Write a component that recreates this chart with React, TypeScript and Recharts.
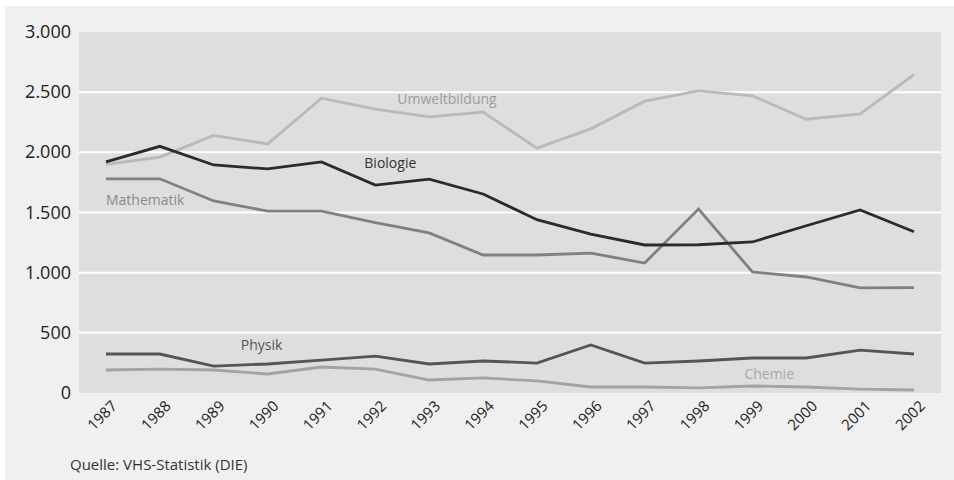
import React from 'react';
import { LineChart, Line, XAxis, YAxis, CartesianGrid, ReferenceLine } from 'recharts';

const years = ['1987', '1988', '1989', '1990', '1991', '1992', '1993', '1994', '1995', '1996', '1997', '1998', '1999', '2000', '2001', '2002'];
const umweltbildung = [1900, 1960, 2140, 2070, 2450, 2360, 2295, 2335, 2035, 2195, 2425, 2510, 2470, 2275, 2320, 2645];
const biologie = [1920, 2050, 1895, 1862, 1920, 1728, 1778, 1654, 1440, 1321, 1230, 1232, 1255, 1390, 1521, 1340];
const mathematik = [1780, 1780, 1596, 1512, 1512, 1415, 1330, 1147, 1147, 1163, 1080, 1529, 1006, 964, 873, 876];
const physik = [324, 324, 224, 241, 274, 307, 241, 266, 249, 399, 249, 266, 291, 291, 357, 324];
const chemie = [191, 199, 191, 158, 216, 199, 108, 125, 100, 50, 50, 42, 58, 50, 33, 25];
const yTicks = [0, 500, 1000, 1500, 2000, 2500, 3000];
const gridValues = [500, 1000, 1500, 2000, 2500];
const source = 'Quelle: VHS-Statistik (DIE)';

const data = years.map((year, i) => ({
  year,
  umweltbildung: umweltbildung[i],
  biologie: biologie[i],
  mathematik: mathematik[i],
  physik: physik[i],
  chemie: chemie[i],
}));

const FONT = '"Open Sans", "DejaVu Sans", sans-serif';

const fmt = (v: number) =>
  v >= 1000 ? `${Math.floor(v / 1000)}.${String(v % 1000).padStart(3, '0')}` : String(v);

const makeLabel = (idx: number, text: string, dx: number, dy: number, color: string) => (props: any) => {
  const { x, y, index } = props;
  if (index !== idx) return <g />;
  return (
    <text x={x + dx} y={y + dy} fill={color} fontSize={14} fontFamily={FONT} textAnchor="start">
      {text}
    </text>
  );
};

const XTick = (props: any) => {
  const { x, y, payload } = props;
  return (
    <g transform={`translate(${x + 12},${y + 6})`}>
      <text x={0} y={0} textAnchor="end" transform="rotate(-45)" fill="#222" fontSize={15} fontFamily={FONT}>
        {payload.value}
      </text>
    </g>
  );
};

const YTick = (props: any) => {
  const { x, y, payload } = props;
  return (
    <text x={x} y={y} dy={6} textAnchor="end" fill="#222" fontSize={18} fontFamily={FONT}>
      {fmt(payload.value)}
    </text>
  );
};

export default function App() {
  return (
    <div style={{ position: 'relative', width: 954, height: 480, background: '#fff', fontFamily: FONT }}>
      <style>{'body{margin:0}'}</style>
      <div style={{ position: 'absolute', left: 5, top: 6, right: 0, bottom: 0, background: '#f0f0f0' }} />
      <div style={{ position: 'absolute', left: 0, top: 0 }}>
        <LineChart width={954} height={480} data={data} margin={{ top: 32, right: 13, bottom: 57, left: 0 }}>
          <CartesianGrid vertical={false} horizontal={false} fill="#dedede" />
          <XAxis
            dataKey="year"
            height={30}
            axisLine={false}
            tickLine={false}
            interval={0}
            padding={{ left: 27, right: 27 }}
            tick={<XTick />}
          />
          <YAxis
            width={79}
            domain={[0, 3000]}
            ticks={yTicks}
            axisLine={false}
            tickLine={false}
            tick={<YTick />}
          />
          {gridValues.map((v) => (
            <ReferenceLine key={v} y={v} stroke="#ffffff" strokeWidth={2} />
          ))}
          <Line dataKey="chemie" stroke="#a3a3a3" strokeWidth={2.8} dot={false} isAnimationActive={false}
            label={makeLabel(12, 'Chemie', -8, -7, '#a8a8a8')} />
          <Line dataKey="physik" stroke="#555555" strokeWidth={2.8} dot={false} isAnimationActive={false}
            label={makeLabel(2, 'Physik', 27, -16, '#555555')} />
          <Line dataKey="umweltbildung" stroke="#b9b9b9" strokeWidth={2.8} dot={false} isAnimationActive={false}
            label={makeLabel(5, 'Umweltbildung', 22, -5, '#9c9c9c')} />
          <Line dataKey="mathematik" stroke="#808080" strokeWidth={2.8} dot={false} isAnimationActive={false}
            label={makeLabel(0, 'Mathematik', 0, 26, '#8a8a8a')} />
          <Line dataKey="biologie" stroke="#2b2b2b" strokeWidth={2.8} dot={false} isAnimationActive={false}
            label={makeLabel(5, 'Biologie', -11, -17, '#333333')} />
        </LineChart>
      </div>
      <div style={{ position: 'absolute', left: 70, top: 454, fontSize: 15, color: '#333', fontFamily: FONT }}>
        {source}
      </div>
    </div>
  );
}
